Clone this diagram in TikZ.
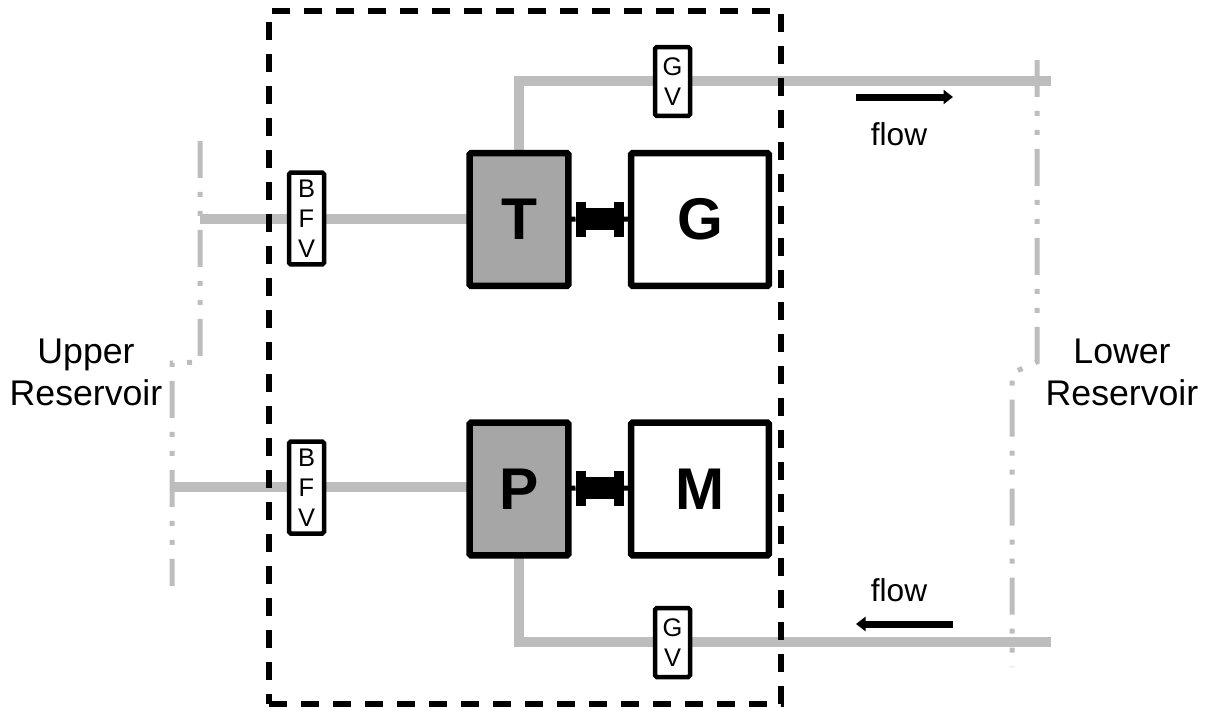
\documentclass[tikz,border=0pt]{standalone}
\usepackage{fontspec}
\setmainfont{Liberation Sans}
\usepackage{tikz}
\usetikzlibrary{arrows.meta,positioning}
\definecolor{pipegray}{HTML}{BDBDBD}
\definecolor{hydrogray}{HTML}{A6A6A6}
\begin{document}
\begin{tikzpicture}[x=0.02cm,y=-0.02cm,
  unit/.style={draw, line width=0.13cm, rounded corners=1pt, minimum width=2.76cm, minimum height=2.66cm, inner sep=0, outer sep=0, font=\fontsize{33.5}{35}\selectfont\bfseries},
  hydro/.style={unit, fill=hydrogray, minimum width=1.98cm},
  valve/.style={draw, line width=0.09cm, rounded corners=1pt, fill=white, align=center, inner sep=0, outer sep=0, minimum width=0.7cm, font=\fontsize{14.5}{17}\selectfont},
  hub/.style={fill=black, inner sep=0, outer sep=0, minimum width=0.2cm, minimum height=0.7cm},
  shaft/.style={fill=black, inner sep=0, outer sep=0, minimum width=0.6cm, minimum height=0.45cm},
  pipe/.style={draw=pipegray, line width=0.21cm},
  res/.style={draw=pipegray, line width=0.1cm, dash pattern=on 0.74cm off 0.28cm on 0.1cm off 0.28cm on 0.1cm off 0.28cm},
  arr/.style={-{Stealth[length=1.9mm,width=2.8mm,inset=0pt]}, line width=0.14cm},
  lab/.style={align=center, inner sep=0, font=\fontsize{20.3}{24}\selectfont},
  flowlab/.style={inner sep=0, font=\fontsize{18}{20}\selectfont}]
\useasboundingbox (0,0) rectangle (1206,707);
% reservoirs
\draw[res] (200,141) -- (200,362) -- (172,363) -- (172,586);
\draw[res] (1037,60) -- (1037,362) -- (1012,373) -- (1012,667);
\coordinate (ut) at (200,219);
\coordinate (up) at (172,487);
\coordinate (lt) at (1051,81);
\coordinate (lp) at (1051,642);
% pipes
\draw[pipe] (ut) -- (519,219);
\draw[pipe] (up) -- (519,487);
\draw[pipe] (519,219) |- (lt);
\draw[pipe] (519,487) |- (lp);
% machines
\node[hydro] (T) at (519,219.5) {T};
\node[unit] (G) at (700,219.5) {G};
\node[hydro] (P) at (519,489) {P};
\node[unit] (M) at (700,489) {M};
% couplings
\node[hub] (th1) at (580.5,219) {};
\node[hub] (th2) at (619,219) {};
\node[shaft] (ts) at (599.75,219) {};
\node[hub] (ph1) at (580.5,488) {};
\node[hub] (ph2) at (619,488) {};
\node[shaft] (ps) at (599.75,488) {};
\draw[line width=0.1cm] (T) -- (th1); \draw[line width=0.1cm] (th2) -- (G);
\draw[line width=0.1cm] (P) -- (ph1); \draw[line width=0.1cm] (ph2) -- (M);
% valves
\node[valve, minimum height=1.84cm] (bfvt) at (306.5,218.5) {B\\F\\V};
\node[valve, minimum height=1.84cm] (bfvp) at (306.5,487.5) {B\\F\\V};
\node[valve, minimum height=1.38cm] (gvt) at (672.5,81.5) {G\\V};
\node[valve, minimum height=1.38cm] (gvp) at (672.5,642.5) {G\\V};
% flow
\coordinate (fa) at (856,97); \coordinate (fb) at (953,97);
\coordinate (fc) at (953,624); \coordinate (fd) at (856,624);
\draw[arr] (fa) -- (fb);
\draw[arr] (fc) -- (fd);
\node[flowlab] (ft) at (899,134) {flow};
\node[flowlab] (fp) at (899,590) {flow};
\node[lab] (upper) at (86,372) {Upper\\Reservoir};
\node[lab] (lower) at (1122,372) {Lower\\Reservoir};
% station boundary
\node[draw, line width=0.11cm, dash pattern=on 0.36cm off 0.28cm, minimum width=10.24cm, minimum height=13.86cm, inner sep=0, outer sep=0] (plant) at (525,357.5) {};
\end{tikzpicture}
\end{document}
